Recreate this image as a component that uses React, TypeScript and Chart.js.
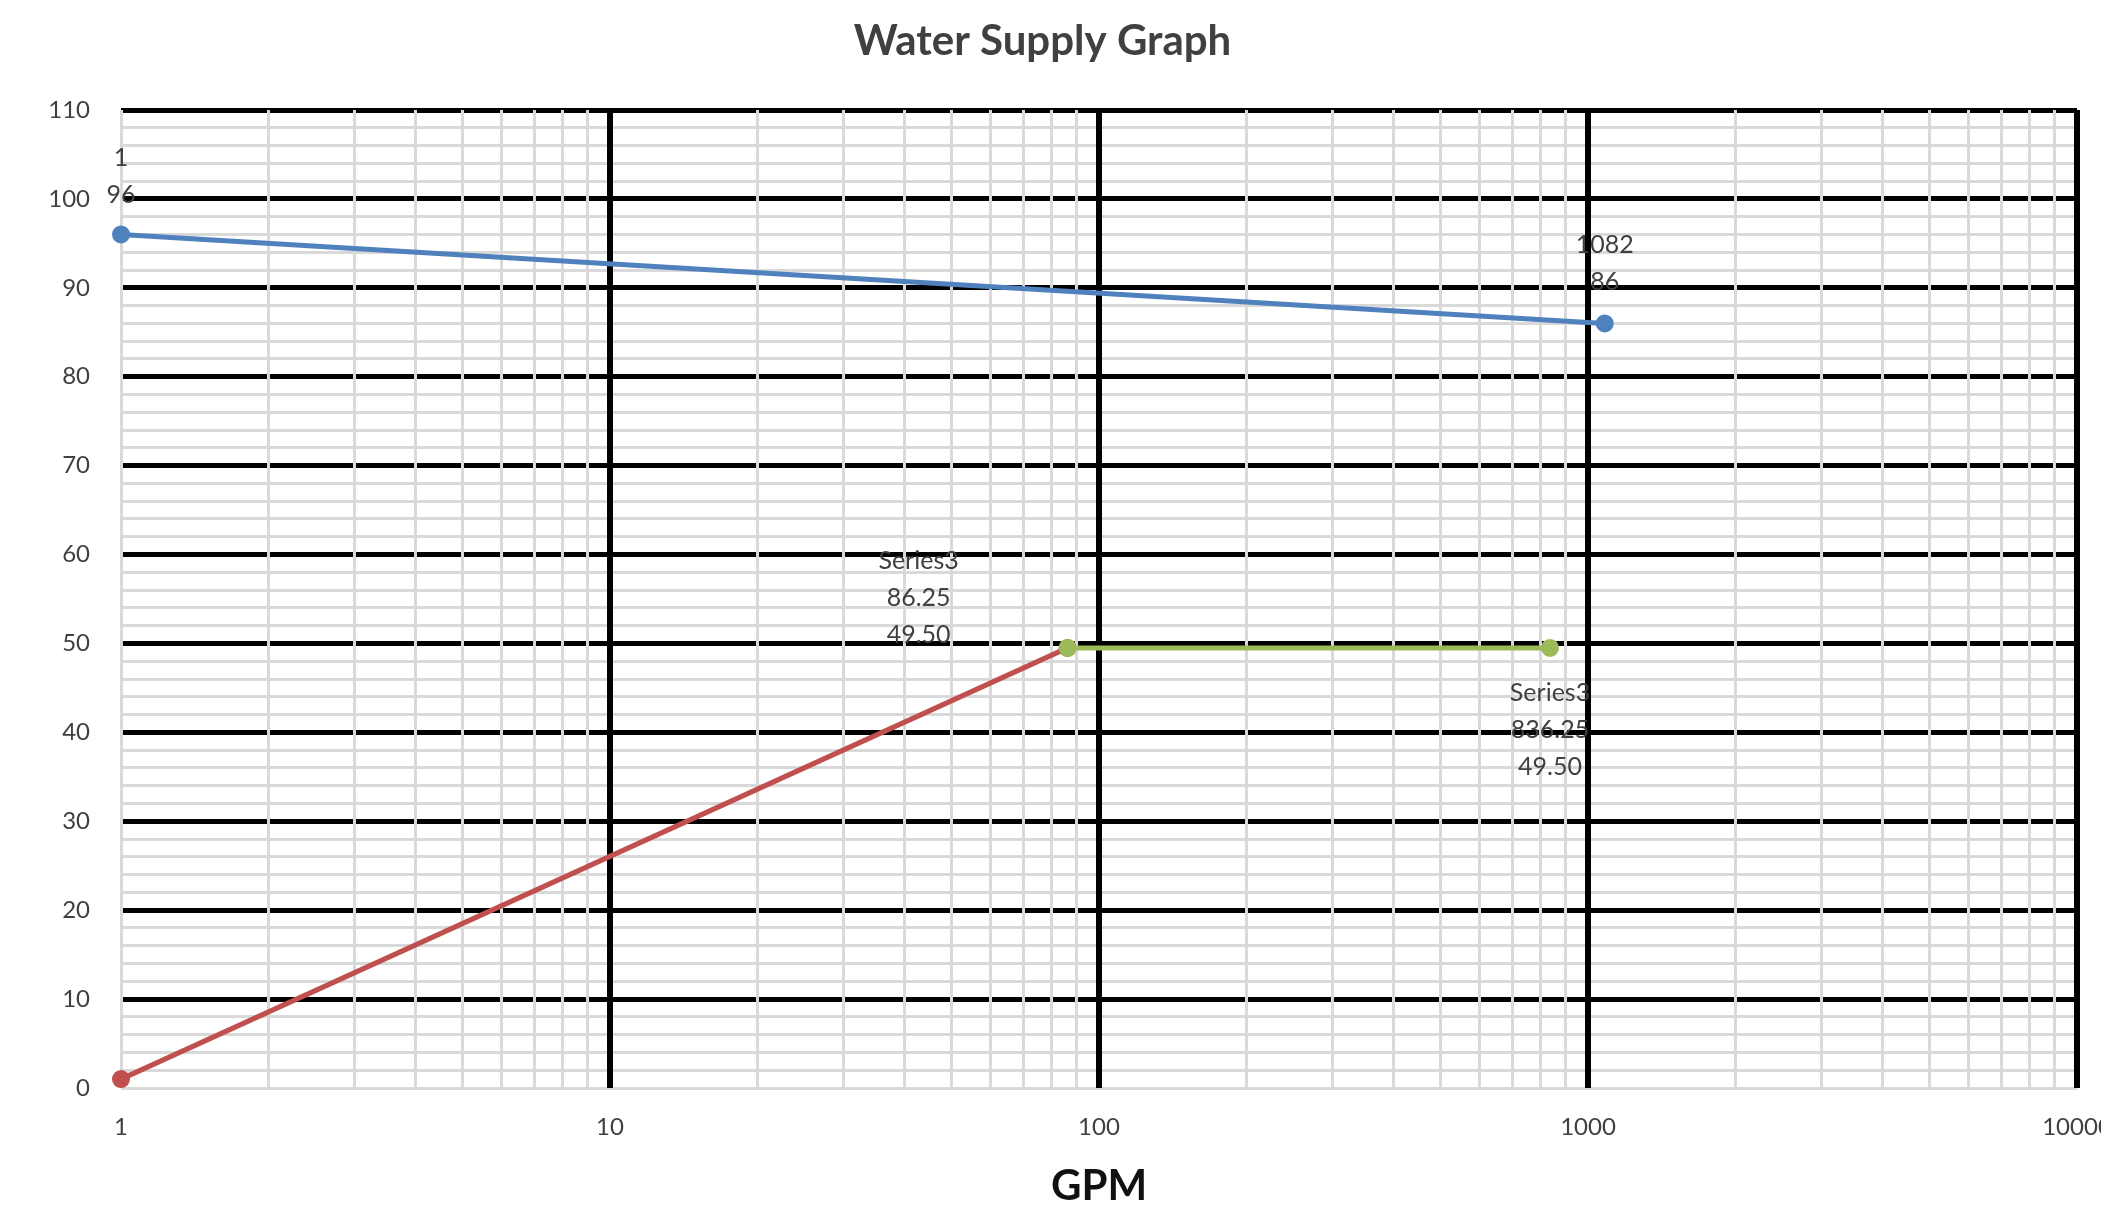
import React, { useEffect, useRef } from "react";
import { Chart, registerables } from "chart.js";

Chart.register(...registerables);

// ---- Data ----
const chartTitle = "Water Supply Graph";
const xAxisTitle = "GPM";

const series1Name = "Series1";
const series1X = [1, 1082];
const series1Y = [96, 86];

const series2Name = "Series2";
const series2X = [1, 86.25];
const series2Y = [1, 49.5];

const series3Name = "Series3";
const series3X = [86.25, 836.25];
const series3Y = [49.5, 49.5];

const xDecades = [1, 10, 100, 1000, 10000];
const xMinorMultipliers = [2, 3, 4, 5, 6, 7, 8, 9];
const yMin = 0;
const yMax = 110;
const yStep = 2;
const yLabelStep = 10;

// ---- Styles ----
const FONT = "Lato, 'Open Sans', sans-serif";
const TEXT = "#404040";
const MAJOR = "#000000";
const MINOR = "#d9d9d9";
const BLUE = "#4f81bd";
const RED = "#c0504d";
const GREEN = "#9bbb59";

const CANVAS_W = 2101;
const CANVAS_H = 1206;

const toPoints = (xs: number[], ys: number[]) => xs.map((x, i) => ({ x, y: ys[i] }));

// label placement (offset of first text line centre from point, in px)
const labelSpecs: Record<number, { lines: (p: { x: number; y: number }) => string[]; place: { dx: number; dy: number }[] }> = {
  0: {
    lines: (p) => [String(p.x), String(p.y)],
    place: [
      { dx: 0, dy: -77 },
      { dx: 0, dy: -78 },
    ],
  },
  2: {
    lines: (p) => [series3Name, p.x.toFixed(2), p.y.toFixed(2)],
    place: [
      { dx: -149, dy: -87 },
      { dx: 0, dy: 45 },
    ],
  },
};

const LINE_GAP = 37;

const pointLabelPlugin = {
  id: "pointLabels",
  afterDatasetsDraw(chart: any) {
    const ctx = chart.ctx;
    ctx.save();
    ctx.font = `25px ${FONT}`;
    ctx.fillStyle = TEXT;
    ctx.textAlign = "center";
    ctx.textBaseline = "middle";
    chart.data.datasets.forEach((ds: any, di: number) => {
      const spec = labelSpecs[di];
      if (!spec) return;
      const meta = chart.getDatasetMeta(di);
      meta.data.forEach((el: any, i: number) => {
        const p = ds.data[i];
        const place = spec.place[i];
        spec.lines(p).forEach((t, k) => {
          ctx.fillText(t, el.x + place.dx, el.y + place.dy + k * LINE_GAP);
        });
      });
    });
    ctx.restore();
  },
};

export default function App() {
  const canvasRef = useRef<HTMLCanvasElement | null>(null);

  useEffect(() => {
    document.body.style.overflow = "hidden";
    const canvas = canvasRef.current;
    if (!canvas) return;

    const xTickValues: number[] = [];
    xDecades.forEach((d, i) => {
      xTickValues.push(d);
      if (i < xDecades.length - 1) xMinorMultipliers.forEach((m) => xTickValues.push(d * m));
    });

    const chart = new Chart(canvas, {
      type: "scatter",
      data: {
        datasets: [
          {
            label: series1Name,
            data: toPoints(series1X, series1Y),
            showLine: true,
            borderColor: BLUE,
            backgroundColor: BLUE,
            borderWidth: 5,
            pointRadius: 9,
            pointBorderWidth: 0,
            clip: false,
            order: 0,
          },
          {
            label: series2Name,
            data: toPoints(series2X, series2Y),
            showLine: true,
            borderColor: RED,
            backgroundColor: RED,
            borderWidth: 5,
            pointRadius: 9,
            pointBorderWidth: 0,
            clip: false,
            order: 2,
          },
          {
            label: series3Name,
            data: toPoints(series3X, series3Y),
            showLine: true,
            borderColor: GREEN,
            backgroundColor: GREEN,
            borderWidth: 5,
            pointRadius: 9,
            pointBorderWidth: 0,
            clip: false,
            order: 1,
          },
        ],
      },
      options: {
        animation: false,
        responsive: false,
        devicePixelRatio: 1,
        layout: { padding: { left: 0, right: 32, top: 0, bottom: 0 } },
        plugins: {
          legend: { display: false },
          tooltip: { enabled: false },
          title: {
            display: true,
            text: chartTitle,
            color: TEXT,
            font: { family: FONT, size: 42, weight: "bold" },
            padding: { top: 8, bottom: 43.6 },
          },
        },
        scales: {
          y: {
            type: "linear",
            min: yMin,
            max: yMax,
            border: { display: false },
            grid: {
              drawTicks: false,
              color: (c: any) => {
                const v = c.tick?.value;
                return v !== yMin && v % yLabelStep === 0 ? MAJOR : MINOR;
              },
              lineWidth: (c: any) => {
                const v = c.tick?.value;
                return v !== yMin && v % yLabelStep === 0 ? 5 : 3;
              },
            },
            ticks: {
              stepSize: yStep,
              autoSkip: false,
              padding: 31,
              color: TEXT,
              font: { family: FONT, size: 24 },
              callback: (v: any) => (Number(v) % yLabelStep === 0 ? String(v) : ""),
            },
            afterFit: (s: any) => {
              s.width = 113;
            },
          },
          x: {
            type: "logarithmic",
            min: xDecades[0],
            max: xDecades[xDecades.length - 1],
            border: { display: false },
            afterBuildTicks: (s: any) => {
              s.ticks = xTickValues.map((v) => ({ value: v }));
            },
            grid: {
              drawTicks: false,
              color: (c: any) => {
                const v = c.tick?.value;
                return v !== xDecades[0] && xDecades.includes(v) ? MAJOR : MINOR;
              },
              lineWidth: (c: any) => {
                const v = c.tick?.value;
                return v !== xDecades[0] && xDecades.includes(v) ? 6 : 3;
              },
            },
            ticks: {
              autoSkip: false,
              maxRotation: 0,
              minRotation: 0,
              padding: 25,
              color: TEXT,
              font: { family: FONT, size: 24 },
              callback: (v: any) => (xDecades.includes(Number(v)) ? String(v) : ""),
            },
            title: {
              display: true,
              text: xAxisTitle,
              color: "#111111",
              font: { family: FONT, size: 42, weight: "bold" },
              padding: { top: 0, bottom: 2 },
            },
            afterFit: (s: any) => {
              s.height = 126;
              s.paddingLeft = 0;
              s.paddingRight = 0;
            },
          },
        },
      } as any,
      plugins: [pointLabelPlugin],
    });

    return () => chart.destroy();
  }, []);

  return (
    <div style={{ width: CANVAS_W, height: CANVAS_H, overflow: "hidden" }}>
      <canvas ref={canvasRef} width={CANVAS_W} height={CANVAS_H} style={{ display: "block" }} />
    </div>
  );
}
